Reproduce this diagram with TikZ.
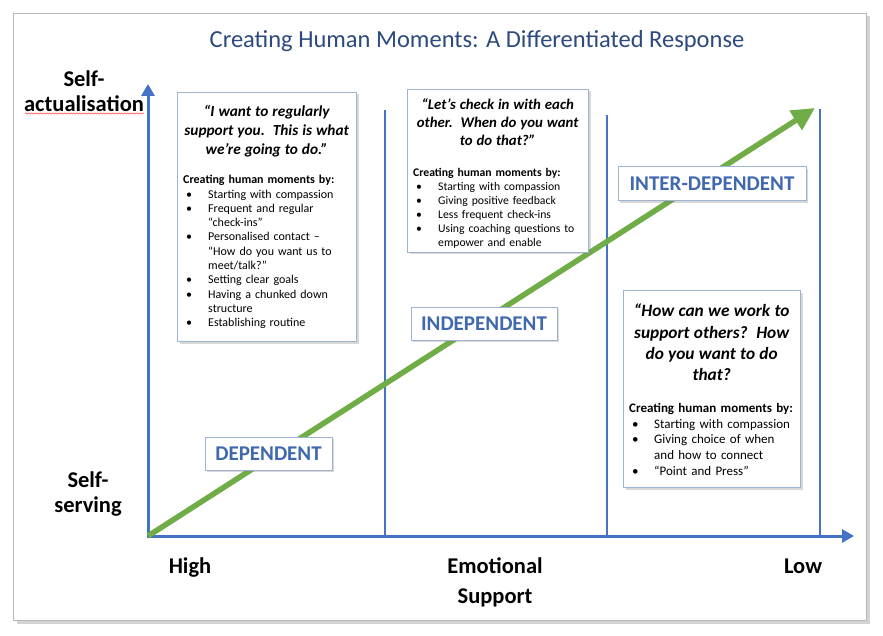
\documentclass[tikz,border=0pt]{standalone}
\usepackage{fontspec}
\setmainfont{Carlito}
\usetikzlibrary{arrows.meta,shadows,decorations.pathmorphing}
\definecolor{axisblue}{HTML}{4472C4}
\definecolor{arrowgreen}{HTML}{70AD47}
\definecolor{titleblue}{HTML}{2C4A7E}
\definecolor{labelblue}{HTML}{4068AE}
\definecolor{boxedge}{HTML}{9DB3D0}
\newcommand{\qitem}[1]{\par\noindent\hangindent=25pt\hangafter=1\makebox[25pt][l]{\hspace{3pt}\textbullet}#1\par}
\newcommand{\firststrut}{\rule{0pt}{14pt}}
\begin{document}
\begin{tikzpicture}[x=1pt,y=-1pt,
  frame/.style={draw=gray!55, line width=1pt, fill=white, anchor=north west, inner sep=0pt,
    drop shadow={shadow xshift=3pt, shadow yshift=-3pt, opacity=0.35}},
  axisline/.style={draw=axisblue, line width=3pt, {Triangle[length=12pt,width=13pt]}-{Triangle[length=12pt,width=13pt]}},
  divider/.style={draw=axisblue, line width=2pt},
  trend/.style={draw=arrowgreen, line width=5.5pt, -{Triangle[length=23pt,width=22pt]}},
  quotebox/.style={draw=boxedge, line width=1pt, fill=white, anchor=north west, inner sep=0pt,
    drop shadow={shadow xshift=2pt, shadow yshift=-2pt, opacity=0.3}},
  quotetext/.style={anchor=north west, align=left, inner sep=0pt},
  stagebox/.style={draw=boxedge, line width=1pt, fill=white, inner sep=0pt,
    font=\fontsize{21}{25}\selectfont\bfseries, text=labelblue,
    drop shadow={shadow xshift=2pt, shadow yshift=-2pt, opacity=0.3}},
  axislabel/.style={font=\fontsize{22.5}{25.5}\selectfont\bfseries, align=center, inner sep=0pt},
  titletext/.style={font=\fontsize{24.5}{28}\selectfont, text=titleblue, inner sep=0pt},
  spell/.style={draw=red!80, line width=0.5pt, decorate, decoration={snake, amplitude=0.6pt, segment length=3pt}}
]
\useasboundingbox (0,0) rectangle (883,636);
\node[frame, minimum width=853pt, minimum height=607pt] (frame) at (13,13) {};

\node[titletext] (title) at (477,41) {Creating Human Moments: A Differentiated Response};

% axes and dividers
\coordinate (O) at (148,536);
\coordinate (ytip) at (148,84);
\coordinate (xtip) at (854,536);
\coordinate (d1t) at (385,110);
\coordinate (d1b) at (385,536);
\coordinate (d2t) at (607,115);
\coordinate (d2b) at (607,536);
\coordinate (d3t) at (820,109);
\coordinate (d3b) at (820,536);
\coordinate (gtip) at (815,108);
\draw[divider] (d1t) -- (d1b);
\draw[divider] (d2t) -- (d2b);
\draw[divider] (d3t) -- (d3b);
\draw[axisline] (ytip) -- (O) -- (xtip);
\draw[trend] (O) -- (gtip);

% axis labels
\node[axislabel] (sa) at (84,91) {Self-\\actualisation};
\draw[spell] ([xshift=1pt,yshift=-1.5pt]sa.south west) -- ([yshift=-1.5pt]sa.south east);
\node[axislabel] (ss) at (88,494) {Self-\\serving};
\node[axislabel, anchor=base] (high) at (190,573) {High};
\node[axislabel, anchor=north, font=\fontsize{22.5}{30}\selectfont\bfseries] (emo) at (495,557) {Emotional\\Support};
\node[axislabel, anchor=base] (low) at (803,573) {Low};

% quote boxes
\node[quotebox, minimum width=179pt, minimum height=249pt] (q1) at (177,92) {};
\node[quotetext, text width=167pt, font=\fontsize{12}{14.3}\selectfont] (q1t) at (183,102.5) {%
{\centering\fontsize{15.3}{18.7}\selectfont\bfseries\itshape\firststrut “I want to regularly\\ support you.\ \ This is what\\ we’re going to do.”\par}
\vspace{15.4pt}
{\bfseries Creating human moments by:}\par
\qitem{Starting with compassion}
\qitem{Frequent and regular\newline “check-ins”}
\qitem{Personalised contact –\newline “How do you want us to\newline meet/talk?”}
\qitem{Setting clear goals}
\qitem{Having a chunked down\newline structure}
\qitem{Establishing routine}
};

\node[quotebox, minimum width=181pt, minimum height=163pt] (q2) at (407,89) {};
\node[quotetext, text width=169pt, font=\fontsize{11.7}{14}\selectfont] (q2t) at (413,95) {%
{\centering\fontsize{14.8}{18.2}\selectfont\bfseries\itshape\firststrut “Let’s check in with each\\ other.\ \ When do you want\\ to do that?”\par}
\vspace{16.5pt}
{\bfseries Creating human moments by:}\par
\qitem{Starting with compassion}
\qitem{Giving positive feedback}
\qitem{Less frequent check-ins}
\qitem{Using coaching questions to\newline empower and enable}
};

\node[quotebox, minimum width=177pt, minimum height=197pt] (q3) at (623,290) {};
\node[quotetext, text width=165pt, font=\fontsize{13}{15.7}\selectfont] (q3t) at (629,302.5) {%
{\centering\fontsize{17.3}{21.3}\selectfont\bfseries\itshape\firststrut “How can we work to\\ support others?\ \ How\\ do you want to do\\ that?\par}
\vspace{16pt}
{\bfseries Creating human moments by:}\par
\qitem{Starting with compassion}
\qitem{Giving choice of when\newline and how to connect}
\qitem{“Point and Press”}
};

% stage labels
\node[stagebox, minimum width=127pt, minimum height=33pt] (dep) at (268.5,453.5) {DEPENDENT};
\node[stagebox, minimum width=146pt, minimum height=33pt] (indep) at (484,323.5) {INDEPENDENT};
\node[stagebox, minimum width=188pt, minimum height=34pt] (inter) at (712,184) {INTER-DEPENDENT};
\end{tikzpicture}
\end{document}
